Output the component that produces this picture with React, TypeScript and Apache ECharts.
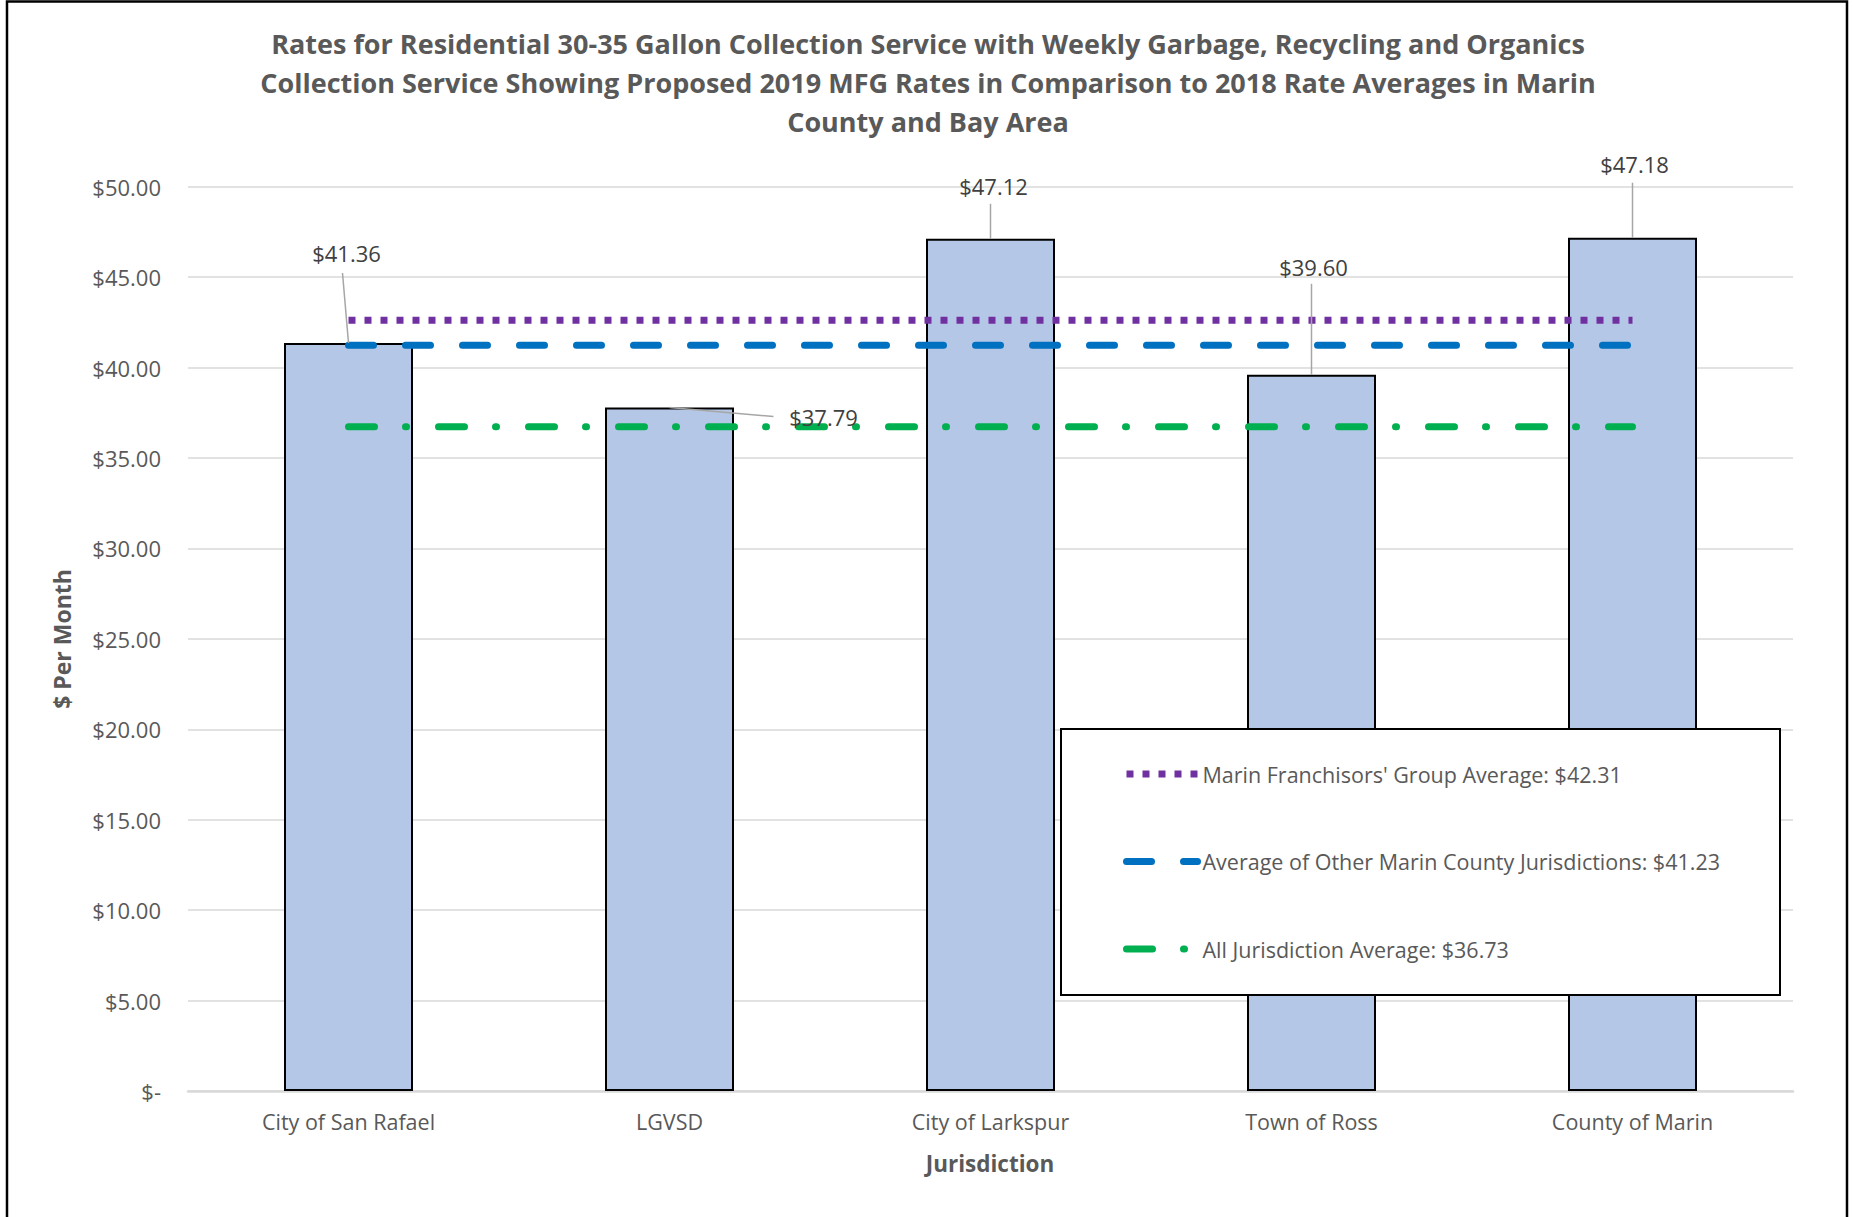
import React, { useEffect, useRef } from "react";
import * as echarts from "echarts";

const TITLE_LINES = [
  "Rates for Residential 30-35 Gallon Collection Service with Weekly Garbage, Recycling and Organics",
  "Collection Service Showing Proposed 2019 MFG Rates in Comparison to 2018 Rate Averages in Marin",
  "County and Bay Area",
];
const CATEGORIES = ["City of San Rafael", "LGVSD", "City of Larkspur", "Town of Ross", "County of Marin"];
const RATES = [41.36, 37.79, 47.12, 39.6, 47.18];
const MFG_AVG = [42.61, 42.61, 42.61, 42.61, 42.61];
const OTHER_MARIN_AVG = [41.23, 41.23, 41.23, 41.23, 41.23];
const ALL_AVG = [36.73, 36.73, 36.73, 36.73, 36.73];
const SERIES_NAMES = [
  "Marin Franchisors' Group Average: $42.31",
  "Average of Other Marin County Jurisdictions: $41.23",
  "All Jurisdiction Average: $36.73",
];
const Y_TITLE = "$ Per Month";
const X_TITLE = "Jurisdiction";

// label placement relative to the bar top (pixels): label center, leader end
const LABEL_OFFSETS = [
  { lx: -2, ly: -90, ex: -6, ey: -70 },
  { lx: 154, ly: 9, ex: 104, ey: 9 },
  { lx: 3, ly: -53, ex: 0, ey: -35 },
  { lx: 2, ly: -108, ex: 0, ey: -91 },
  { lx: 2, ly: -74, ex: 0, ey: -55 },
];

const FONT = "'Open Sans', Calibri, sans-serif";

export default function App() {
  const ref = useRef<HTMLDivElement>(null);
  useEffect(() => {
    if (!ref.current) return;
    const chart = echarts.init(ref.current, null, { renderer: "svg" });
    const lineBase = { type: "line", symbol: "none", z: 3 };
    chart.setOption({
      animation: false,
      textStyle: { fontFamily: FONT },
      grid: { left: 188, right: 60, top: 186.7, bottom: 126, containLabel: false },
      xAxis: {
        type: "category",
        data: CATEGORIES,
        axisTick: { show: false },
        axisLine: { show: true, lineStyle: { color: "#D9D9D9", width: 2.5 } },
        axisLabel: { color: "#595959", fontSize: 21.5, margin: 19, fontFamily: FONT },
      },
      yAxis: {
        type: "value",
        min: 0,
        max: 50,
        interval: 5,
        axisLine: { show: false },
        axisTick: { show: false },
        splitLine: { lineStyle: { color: "#D9D9D9", width: 1.5 } },
        axisLabel: {
          color: "#595959",
          fontSize: 22,
          margin: 27,
          fontFamily: FONT,
          formatter: (v: number) => (v === 0 ? "$-" : "$" + v.toFixed(2)),
        },
      },
      legend: {
        orient: "vertical",
        left: 1123,
        top: 761,
        z: 6,
        itemWidth: 71,
        itemHeight: 14,
        itemGap: 61.5,
        padding: 0,
        data: SERIES_NAMES,
        lineStyle: { width: "inherit" },
        itemStyle: { opacity: 0 },
        textStyle: { fontSize: 21.5, color: "#595959", lineHeight: 26, fontFamily: FONT },
      },
      graphic: [
        {
          type: "rect",
          z: -1,
          silent: true,
          shape: { x: 7, y: 1.5, width: 1840, height: 1300 },
          style: { fill: "none", stroke: "#000", lineWidth: 2.5 },
        },
        {
          type: "text",
          x: 928,
          y: 24,
          style: {
            text: TITLE_LINES.join("\n"),
            fontSize: 27,
            fontWeight: "bold",
            fill: "#595959",
            fontFamily: FONT,
            textAlign: "center",
            lineHeight: 39,
          },
        },
        {
          type: "text",
          x: 62,
          y: 639,
          rotation: Math.PI / 2,
          style: {
            text: Y_TITLE,
            fontSize: 23,
            fontWeight: "bold",
            fill: "#595959",
            fontFamily: FONT,
            textAlign: "center",
            textVerticalAlign: "middle",
          },
        },
        {
          type: "text",
          x: 990,
          y: 1163,
          style: {
            text: X_TITLE,
            fontSize: 22.5,
            fontWeight: "bold",
            fill: "#595959",
            fontFamily: FONT,
            textAlign: "center",
            textVerticalAlign: "middle",
          },
        },
        {
          type: "rect",
          z: 5,
          shape: { x: 1061, y: 729, width: 719, height: 266 },
          style: { fill: "#fff", stroke: "#000", lineWidth: 2 },
        },
      ],
      series: [
        {
          name: "Rate",
          type: "bar",
          data: RATES,
          barWidth: 129,
          z: 2,
          itemStyle: { color: "#B4C7E7", borderColor: "#000", borderWidth: 2 },
        },
        {
          ...lineBase,
          name: SERIES_NAMES[0],
          data: MFG_AVG,
          lineStyle: { color: "#7030A0", width: 7, type: [7, 9], cap: "butt" },
          itemStyle: { color: "#7030A0" },
        },
        {
          ...lineBase,
          name: SERIES_NAMES[1],
          data: OTHER_MARIN_AVG,
          lineStyle: { color: "#0070C0", width: 7, type: [25, 32], cap: "round" },
          itemStyle: { color: "#0070C0" },
        },
        {
          ...lineBase,
          name: SERIES_NAMES[2],
          data: ALL_AVG,
          lineStyle: { color: "#00B050", width: 7, type: [26, 31, 1, 32], cap: "round" },
          itemStyle: { color: "#00B050" },
        },
        {
          name: "labels",
          type: "custom",
          z: 4,
          data: RATES.map((v, i) => [i, v]),
          renderItem: (params: any, api: any) => {
            const i = params.dataIndex;
            const v = api.value(1);
            const p = api.coord([api.value(0), v]);
            const o = LABEL_OFFSETS[i];
            return {
              type: "group",
              children: [
                {
                  type: "line",
                  shape: { x1: p[0], y1: p[1], x2: p[0] + o.ex, y2: p[1] + o.ey },
                  style: { stroke: "#A6A6A6", lineWidth: 1.5 },
                },
                {
                  type: "text",
                  x: p[0] + o.lx,
                  y: p[1] + o.ly,
                  style: {
                    text: "$" + v.toFixed(2),
                    fontSize: 22,
                    fill: "#404040",
                    fontFamily: FONT,
                    textAlign: "center",
                    textVerticalAlign: "middle",
                  },
                },
              ],
            };
          },
        },
      ],
    });
    return () => chart.dispose();
  }, []);
  return (
    <div
      ref={ref}
      style={{ position: "fixed", left: 0, top: 0, width: 1853, height: 1217, background: "#fff" }}
    />
  );
}
